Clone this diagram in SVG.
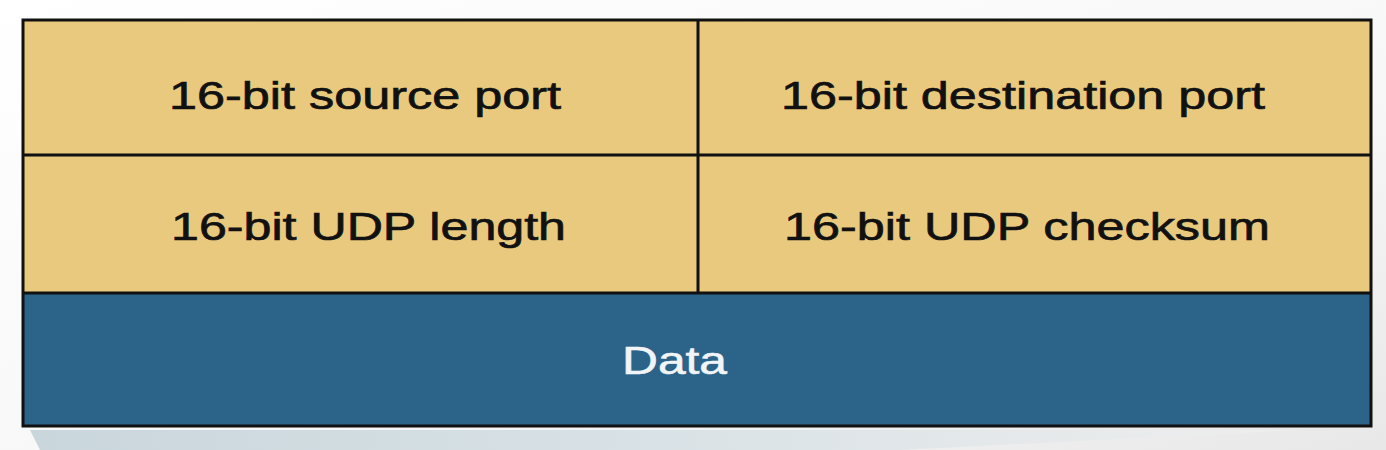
<svg xmlns="http://www.w3.org/2000/svg" width="1386" height="450" viewBox="0 0 1386 450">
  <defs>
    <linearGradient id="bg" x1="0" y1="0" x2="1" y2="1">
      <stop offset="0" stop-color="#ffffff"/>
      <stop offset="0.6" stop-color="#f7f7f7"/>
      <stop offset="1" stop-color="#e8e8e8"/>
    </linearGradient>
    <linearGradient id="shadow" x1="0" y1="0" x2="1" y2="0">
      <stop offset="0" stop-color="#c9d6dc"/>
      <stop offset="0.5" stop-color="#d9e2e6"/>
      <stop offset="1" stop-color="#eeeeee"/>
    </linearGradient>
    <style>
      .hdr { fill: #e9c97d; }
      .dat { fill: #2c6389; }
      .edge { fill: none; stroke: #111111; stroke-width: 3; }
      .lbl { font-family: "Liberation Sans", Arial, sans-serif; font-size: 39px; fill: #111111; stroke: #111111; stroke-width: 0.7px; }
      .lbl-w { font-family: "Liberation Sans", Arial, sans-serif; font-size: 39px; fill: #f2f5f8; stroke: #f2f5f8; stroke-width: 0.6px; }
    </style>
  </defs>
  <rect x="0" y="0" width="1386" height="450" fill="url(#bg)"/>
  <polygon points="30,430 1300,430 900,450 40,450" fill="url(#shadow)"/>

  <g id="source-port">
    <rect class="hdr" x="23" y="20" width="675" height="135"/>
    <text class="lbl" x="169" y="108.5" textLength="392" lengthAdjust="spacingAndGlyphs">16-bit source port</text>
  </g>
  <g id="destination-port">
    <rect class="hdr" x="698" y="20" width="673" height="135"/>
    <text class="lbl" x="781" y="108.5" textLength="484" lengthAdjust="spacingAndGlyphs">16-bit destination port</text>
  </g>
  <g id="udp-length">
    <rect class="hdr" x="23" y="155" width="675" height="138"/>
    <text class="lbl" x="171" y="239.5" textLength="395" lengthAdjust="spacingAndGlyphs">16-bit UDP length</text>
  </g>
  <g id="udp-checksum">
    <rect class="hdr" x="698" y="155" width="673" height="138"/>
    <text class="lbl" x="784" y="239.5" textLength="486" lengthAdjust="spacingAndGlyphs">16-bit UDP checksum</text>
  </g>
  <g id="data">
    <rect class="dat" x="23" y="293" width="1348" height="133"/>
    <text class="lbl-w" x="622" y="373.5" textLength="105" lengthAdjust="spacingAndGlyphs">Data</text>
  </g>

  <g id="connectors">
    <rect class="edge" x="23" y="20" width="1348" height="406"/>
    <line class="edge" x1="23" y1="155" x2="1371" y2="155"/>
    <line class="edge" x1="23" y1="293" x2="1371" y2="293"/>
    <line class="edge" x1="698" y1="20" x2="698" y2="293"/>
  </g>
</svg>
